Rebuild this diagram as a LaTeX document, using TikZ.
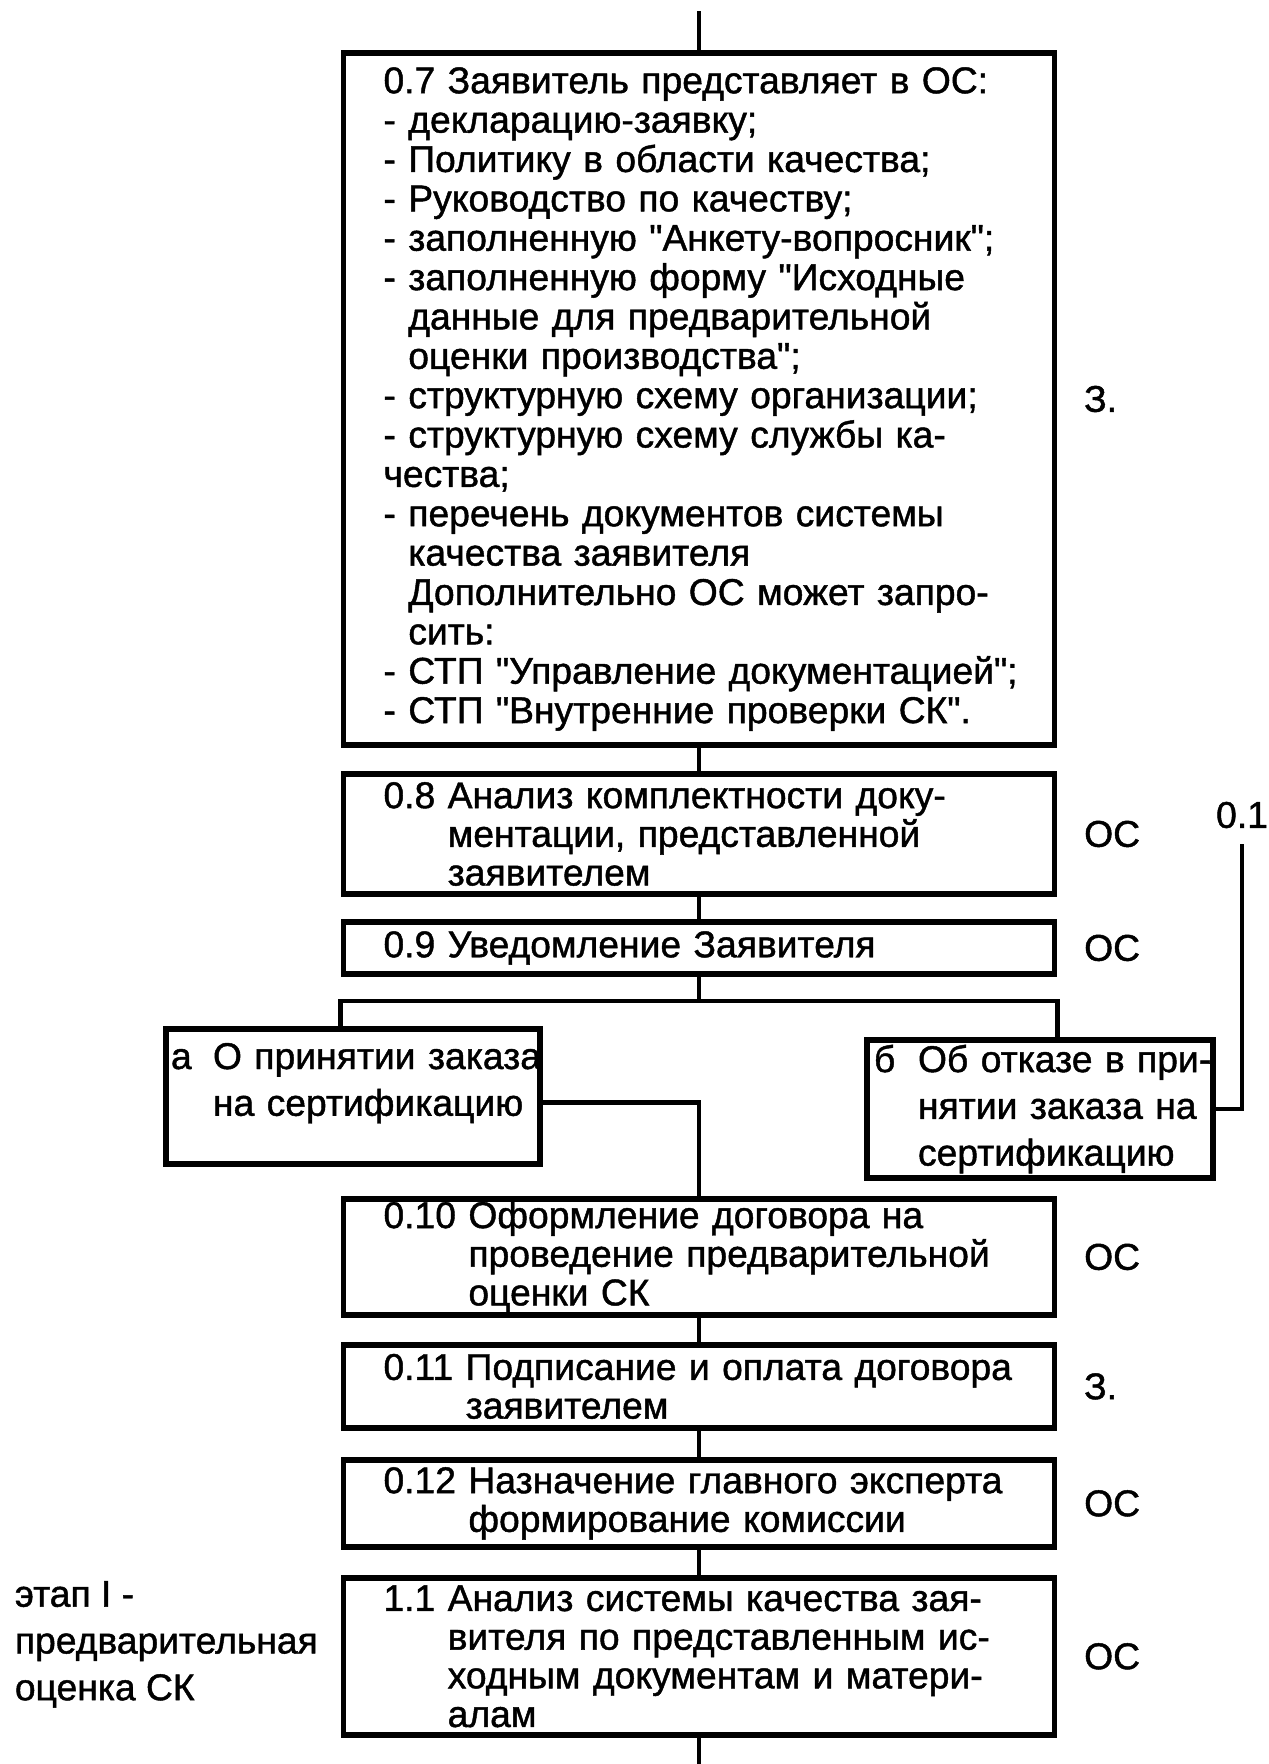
\documentclass[tikz,border=0pt]{standalone}
\usepackage{fontspec}
\setmainfont{Liberation Sans}[FakeBold=1.2]
\usetikzlibrary{positioning}

\begin{document}
\begin{tikzpicture}[x=0.1mm,y=-0.1mm,%
  every node/.style={inner sep=0pt,font=\fontsize{10.6}{11}\selectfont},
  stage/.style={draw,line width=1.7pt,text width=69.1mm,inner xsep=1mm,
    align=left,execute at begin node={\leftskip=3mm}},
  choice/.style={draw,line width=1.7pt,inner xsep=.5mm,align=left,
    font=\fontsize{10.6}{13.3}\selectfont},
  link/.style={line width=1.4pt}]
  \useasboundingbox (0,0) rectangle (1269,1764);
  % the steps
  \node[stage,minimum height=69.2mm,font=\fontsize{10.6}{11.2}\selectfont] (s07) at (699,399)
    {0.7 Заявитель представляет в ОС:\\
     - декларацию-заявку;\\
     - Политику в области качества;\\
     - Руководство по качеству;\\
     - заполненную \textquotedbl Анкету-вопросник\textquotedbl;\\
     - заполненную форму \textquotedbl Исходные\\
     \phantom{-}~данные для предварительной\\
     \phantom{-}~оценки производства\textquotedbl;\\
     - структурную схему организации;\\
     - структурную схему службы ка-\\
     чества;\\
     - перечень документов системы\\
     \phantom{-}~качества заявителя\\
     \phantom{-}~Дополнительно ОС может запро-\\
     \phantom{-}~сить:\\
     - СТП \textquotedbl Управление документацией\textquotedbl;\\
     - СТП \textquotedbl Внутренние проверки СК\textquotedbl.};
  \node[stage,minimum height=12mm,below=2.3mm of s07] (s08)
    {0.8 Анализ комплектности доку-\\
     \phantom{0.8}~ментации, представленной\\
     \phantom{0.8}~заявителем};
  \node[stage,minimum height=5.2mm,below=2.2mm of s08] (s09)
    {0.9 Уведомление Заявителя};
  \node[choice,text width=36.4mm,minimum height=13.5mm,text depth=8mm] (ca) at (353,1096)
    {\mbox{\makebox[4.2mm][l]{а}О принятии заказа}\\
     \hspace*{4.2mm}на сертификацию};
  \node[choice,text width=33.6mm,minimum height=13.8mm,
    execute at begin node={\leftskip=.2mm}] (cb) at (1040,1109)
    {\mbox{\makebox[4.4mm][l]{б}Об отказе в при-}\\
     \hspace*{4.4mm}нятии заказа на\\
     \hspace*{4.4mm}сертификацию};
  \node[stage,minimum height=11.6mm,below=21.9mm of s09] (s010)
    {0.10 Оформление договора на\\
     \phantom{0.10}~проведение предварительной\\
     \phantom{0.10}~оценки СК};
  \node[stage,minimum height=8.3mm,below=2.4mm of s010] (s011)
    {0.11 Подписание и оплата договора\\
     \phantom{0.11}~заявителем};
  \node[stage,minimum height=8.7mm,below=2.6mm of s011] (s012)
    {0.12 Назначение главного эксперта\\
     \phantom{0.12}~формирование комиссии};
  \node[stage,minimum height=15.7mm,below=2.5mm of s012] (s11)
    {1.1 Анализ системы качества зая-\\
     \phantom{1.1}~вителя по представленным ис-\\
     \phantom{1.1}~ходным документам и матери-\\
     \phantom{1.1}~алам};
  % who does it
  \node[right=2.6mm of s07] (w07) {З.};
  \node[right=2.6mm of s08] (w08) {ОС};
  \node[right=2.6mm of s09] (w09) {ОС};
  \node[right=2.6mm of s010] (w010) {ОС};
  \node[right=2.6mm of s011] (w011) {З.};
  \node[right=2.6mm of s012] (w012) {ОС};
  \node[right=2.6mm of s11] (w11) {ОС};
  \node (r01) at (1242,815) {0.1};
  \node[left=2.2mm of s11,yshift=1.2mm,align=left,
    font=\fontsize{10.6}{13.3}\selectfont] (phase)
    {этап I -\\предварительная\\оценка СК};
  % the edges
  \coordinate (top) at (699,11);
  \coordinate (fork) at (699,1001);
  \coordinate (bottom) at (699,1764);
  \draw[link] (top) -- (s07);
  \draw[link] (s07) -- (s08);
  \draw[link] (s08) -- (s09);
  \draw[link] (s09) -- (fork);
  \draw[link] (ca.north -| s09.west) |- (fork) -| (cb.north -| s09.east);
  \draw[link] ([yshift=-.65mm]ca.east) -| (s010);
  \draw[link] (cb.east) -| ([yshift=-1.5mm]r01.south);
  \draw[link] (s010) -- (s011);
  \draw[link] (s011) -- (s012);
  \draw[link] (s012) -- (s11);
  \draw[link] (s11) -- (bottom);
\end{tikzpicture}
\end{document}
